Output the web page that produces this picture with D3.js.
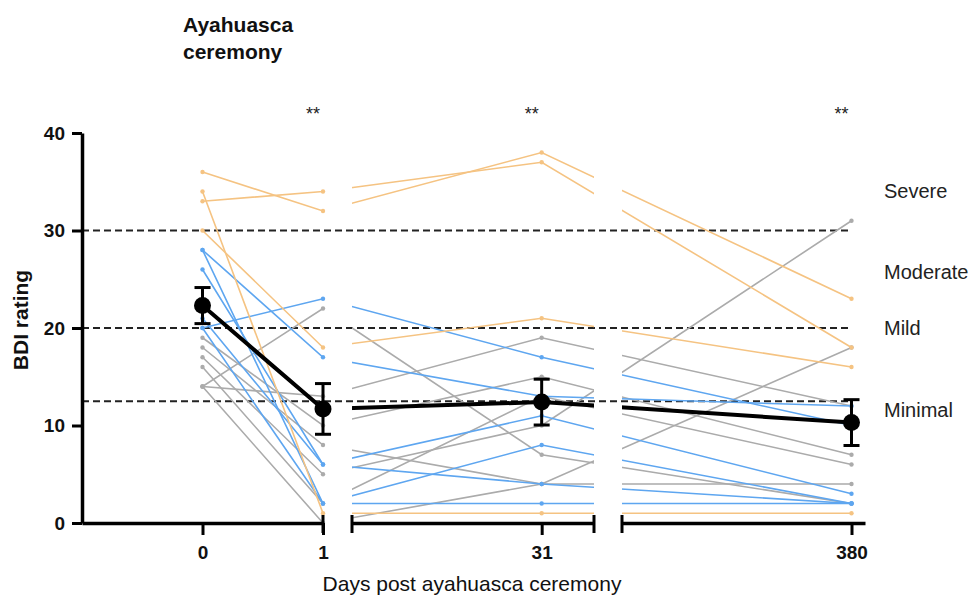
<!DOCTYPE html>
<html>
<head>
<meta charset="utf-8">
<script src="https://cdn.jsdelivr.net/npm/d3@7"></script>
<style>
  html, body { margin: 0; padding: 0; background: #fff; }
  svg { display: block; font-family: "Liberation Sans", Arial, sans-serif; }
</style>
</head>
<body>
<div id="chart"></div>
<script>
// Time points (days post ceremony)
const days = [0, 1, 31, 380];

// Individual BDI scores per participant, one value per time point
const severeScores = [
    [36, 32, 38, 23],
    [34, 1, 1, 1],
    [33, 34, 37, 18],
    [30, 18, 21, 16]
];
const moderateScores = [
    [20, 23, 17, 10],
    [28, 17, 13, 12],
    [26, 6, 11, 3],
    [21, 6, 4, 2],
    [28, 2, 8, 2],
    [20, 2, 2, 2]
];
const mildScores = [
    [14, 22, 7, 2],
    [14, 13, 19, 12],
    [19, 10, 15, 7],
    [18, 8, 4, 4],
    [17, 5, 10, 31],
    [16, 2, 13, 6],
    [14, 0, 4, 18]
];

// Group mean and SEM
const meanScores = [22.3, 11.7, 12.4, 10.3];
const semScores = [1.85, 2.6, 2.35, 2.35];

// Severity cut-offs and labels
const cutoffs = [30, 20, 12.5];
const severityLabels = ["Severe", "Moderate", "Mild", "Minimal"];
const yTicks = [0, 10, 20, 30, 40];
const significance = ["**", "**", "**"];

const width = 971;
const height = 599;
const colors = { severe: "#f5c382", moderate: "#5ea6f0", mild: "#ababab" };

const svg = d3.select("#chart")
    .append("svg")
    .attr("width", width)
    .attr("height", height);

const y = d3.scaleLinear().domain([0, 40]).range([523, 133]);

// Broken x axis: three linear segments
const segments = [
    { scale: d3.scaleLinear().domain([-1, 1]).range([82, 323]), ticks: [0, 1] },
    { scale: d3.scaleLinear().domain([2, 39]).range([352, 594]), ticks: [31] },
    { scale: d3.scaleLinear().domain([40, 400]).range([622, 865]), ticks: [380] }
];

function xPos(day) {
    const seg = segments.find(s => day >= s.scale.domain()[0] && day <= s.scale.domain()[1]);
    return seg.scale(day);
}

// Clip lines to the segments (lines crossing the gaps are hidden there)
const clip = svg.append("defs").append("clipPath").attr("id", "seg-clip");
segments.forEach(s => {
    const r = s.scale.range();
    clip.append("rect")
        .attr("x", r[0]).attr("y", 0)
        .attr("width", r[1] - r[0]).attr("height", height);
});

// Dashed severity cut-offs
svg.append("g")
    .selectAll("line")
    .data(cutoffs)
    .join("line")
    .attr("x1", 82)
    .attr("x2", xPos(380))
    .attr("y1", d => y(d))
    .attr("y2", d => y(d))
    .attr("stroke", "#222")
    .attr("stroke-width", 2)
    .attr("stroke-dasharray", "7,4");

const line = d3.line()
    .x((d, i) => xPos(days[i]))
    .y(d => y(d));

const groups = [
    { data: mildScores, color: colors.mild },
    { data: moderateScores, color: colors.moderate },
    { data: severeScores, color: colors.severe }
];

groups.forEach(g => {
    const gg = svg.append("g");
    gg.selectAll("path")
        .data(g.data)
        .join("path")
        .attr("d", line)
        .attr("fill", "none")
        .attr("stroke", g.color)
        .attr("stroke-width", 1.6)
        .attr("clip-path", "url(#seg-clip)");

    gg.selectAll("circle")
        .data(g.data.flatMap(s => s.map((v, i) => ({ day: days[i], v }))))
        .join("circle")
        .attr("cx", d => xPos(d.day))
        .attr("cy", d => y(d.v))
        .attr("r", 2.2)
        .attr("fill", g.color);
});

// Mean line with SEM
svg.append("path")
    .datum(meanScores)
    .attr("d", line)
    .attr("fill", "none")
    .attr("stroke", "#000")
    .attr("stroke-width", 4)
    .attr("clip-path", "url(#seg-clip)");

const meanG = svg.append("g")
    .selectAll("g")
    .data(meanScores.map((m, i) => ({ day: days[i], m, e: semScores[i] })))
    .join("g")
    .attr("transform", d => `translate(${xPos(d.day)},0)`);

meanG.append("line")
    .attr("y1", d => y(d.m - d.e))
    .attr("y2", d => y(d.m + d.e))
    .attr("stroke", "#000")
    .attr("stroke-width", 3);
meanG.selectAll(".cap")
    .data(d => [d.m - d.e, d.m + d.e])
    .join("line")
    .attr("x1", -8).attr("x2", 8)
    .attr("y1", d => y(d)).attr("y2", d => y(d))
    .attr("stroke", "#000")
    .attr("stroke-width", 3);
meanG.append("circle")
    .attr("cy", d => y(d.m))
    .attr("r", 8.5)
    .attr("fill", "#000");

// Y axis
const yAxis = svg.append("g")
    .attr("transform", "translate(82,0)")
    .call(d3.axisLeft(y).tickValues(yTicks).tickSize(10).tickSizeOuter(0).tickPadding(7));
yAxis.select(".domain").attr("stroke-width", 3.5).attr("stroke", "#000");
yAxis.selectAll(".tick line").attr("stroke-width", 3).attr("stroke", "#000");
yAxis.selectAll(".tick text")
    .attr("font-size", 19).attr("font-weight", "bold")
    .attr("font-family", "Liberation Sans, Arial, sans-serif").attr("fill", "#111");

// X axis segments
segments.forEach((s, i) => {
    const ax = svg.append("g")
        .attr("transform", "translate(0,523)")
        .call(d3.axisBottom(s.scale).tickValues(s.ticks).tickFormat(d3.format("d"))
            .tickSize(12).tickSizeOuter(0).tickPadding(11));
    ax.select(".domain").attr("stroke-width", 3.5).attr("stroke", "#000");
    ax.selectAll(".tick line").attr("stroke-width", 3).attr("stroke", "#000");
    ax.selectAll(".tick text")
        .attr("font-size", 19).attr("font-weight", "bold")
        .attr("font-family", "Liberation Sans, Arial, sans-serif").attr("fill", "#111");

    // end caps at the breaks
    const r = s.scale.range();
    const caps = i === 0 ? [r[1]] : i === 1 ? [r[0], r[1]] : [r[0]];
    ax.selectAll(".cap")
        .data(caps)
        .join("line")
        .attr("x1", d => d).attr("x2", d => d)
        .attr("y1", -8).attr("y2", 10)
        .attr("stroke", "#000")
        .attr("stroke-width", 3);
});

// Significance markers
svg.append("g")
    .selectAll("text")
    .data(significance)
    .join("text")
    .attr("x", (d, i) => xPos(days[i + 1]) - 10)
    .attr("y", 120)
    .attr("text-anchor", "middle")
    .attr("font-size", 18)
    .attr("fill", "#222")
    .text(d => d);

// Severity labels on the right
const labelY = [197.7, 279, 335, 416.7];
svg.append("g")
    .selectAll("text")
    .data(severityLabels)
    .join("text")
    .attr("x", 884)
    .attr("y", (d, i) => labelY[i])
    .attr("font-size", 20)
    .attr("fill", "#222")
    .text(d => d);

// Titles
const title = svg.append("text")
    .attr("x", 183)
    .attr("font-size", 21)
    .attr("font-weight", "bold")
    .attr("fill", "#111");
title.append("tspan").attr("x", 183).attr("y", 31.5).text("Ayahuasca");
title.append("tspan").attr("x", 183).attr("y", 59).text("ceremony");

svg.append("text")
    .attr("x", 472)
    .attr("y", 591)
    .attr("text-anchor", "middle")
    .attr("font-size", 21)
    .attr("fill", "#111")
    .text("Days post ayahuasca ceremony");

svg.append("text")
    .attr("transform", "translate(28,320) rotate(-90)")
    .attr("text-anchor", "middle")
    .attr("font-size", 21)
    .attr("font-weight", "bold")
    .attr("fill", "#111")
    .text("BDI rating");
</script>
</body>
</html>
